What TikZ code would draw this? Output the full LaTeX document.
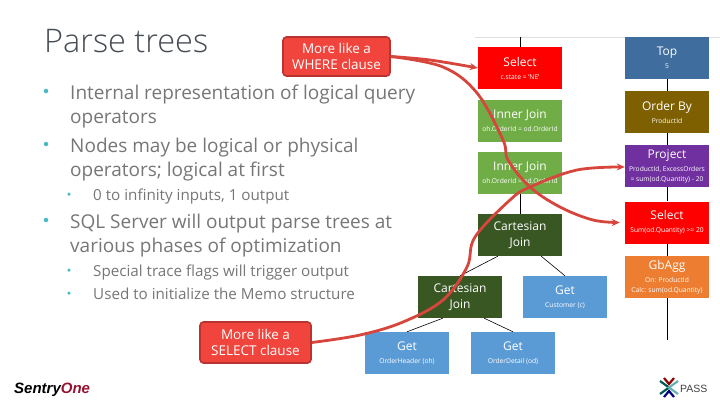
\documentclass[tikz,border=0pt]{standalone}
\usepackage{xcolor}
\usepackage{fontspec}
\setmainfont{Open Sans}
\newfontfamily\lightfont{Open Sans Light}
\newfontfamily\logofont{Liberation Sans}
\usetikzlibrary{arrows.meta}
\definecolor{bodygray}{RGB}{118,118,118}
\definecolor{titlegray}{RGB}{70,76,84}
\definecolor{bulletteal}{RGB}{70,185,195}
\definecolor{noteface}{RGB}{240,68,60}
\definecolor{noteedge}{RGB}{185,52,48}
\definecolor{curvered}{RGB}{215,70,60}
\definecolor{opred}{RGB}{255,0,0}
\definecolor{opgreen}{RGB}{112,173,71}
\definecolor{opdark}{RGB}{56,87,35}
\definecolor{opblue}{RGB}{91,155,213}
\definecolor{opsteel}{RGB}{62,109,158}
\definecolor{opbrown}{RGB}{127,96,0}
\definecolor{oppurple}{RGB}{112,48,160}
\definecolor{oporange}{RGB}{237,125,49}
\definecolor{onered}{RGB}{150,20,50}
\newcommand{\opsub}{\fontsize{6.7}{10}\selectfont}
\newcommand{\optwo}[2]{#1\\[-3pt]{\opsub #2}}
\newcommand{\opthree}[3]{#1\\[-3pt]{\opsub #2}\\[-6pt]{\opsub #3}}
\tikzset{
  opbox/.style={minimum width=84pt, minimum height=42pt, inner sep=0pt, text=white, align=center,
    font=\fontsize{12}{16}\selectfont},
  bigtext/.style={anchor=base west, inner sep=0pt, text=bodygray, font=\fontsize{19}{23}\selectfont},
  smalltext/.style={anchor=base west, inner sep=0pt, text=bodygray, font=\fontsize{15.2}{18}\selectfont},
  dotmark/.style={circle, fill=bulletteal, inner sep=0pt},
  note/.style={draw=noteedge, line width=1.6pt, fill=noteface, rounded corners=3.5pt, text=white,
    inner sep=0pt, align=center, font=\fontsize{13.5}{16.5}\selectfont},
  treeline/.style={black, line width=0.6pt},
  notecurve/.style={curvered, line width=2.8pt, smooth, tension=0.6, -{Stealth[length=8pt,width=7pt]}},
  passarm/.style={line width=2.2pt}
}
\begin{document}
\begin{tikzpicture}[x=1pt,y=-1pt]
    \useasboundingbox (0,0) rectangle (720,405);
    \draw[gray!25, line width=0.5pt] (475,37) -- (720,37);
    % title and bullets
    \node[anchor=base west, inner sep=0pt, text=titlegray, font=\fontsize{32.5}{38}\lightfont] (title) at (44,52) {Parse trees};
    \node[dotmark, minimum size=4.5pt] (dota) at (46,91) {};
    \node[bigtext] (linea) at (70,99) {Internal representation of logical query};
    \node[bigtext] (lineb) at (70,123) {operators};
    \node[dotmark, minimum size=4.5pt] (dotb) at (46,144) {};
    \node[bigtext] (linec) at (70,152) {Nodes may be logical or physical};
    \node[bigtext] (lined) at (70,176) {operators; logical at first};
    \node[dotmark, minimum size=3.5pt] (dotc) at (69,194) {};
    \node[smalltext] (linee) at (93,200) {0 to infinity inputs, 1 output};
    \node[dotmark, minimum size=4.5pt] (dotd) at (46,220) {};
    \node[bigtext] (linef) at (70,228) {SQL Server will output parse trees at};
    \node[bigtext] (lineg) at (70,252) {various phases of optimization};
    \node[dotmark, minimum size=3.5pt] (dote) at (69,270) {};
    \node[smalltext] (lineh) at (93,276) {Special trace flags will trigger output};
    \node[dotmark, minimum size=3.5pt] (dotf) at (69,293) {};
    \node[smalltext] (linei) at (93,299) {Used to initialize the Memo structure};
    % left tree
    \coordinate (stema) at (520,37);
    \node[opbox, fill=opred] (selecta) at (520,68) {\optwo{Select}{c.state = 'NE'}};
    \node[opbox, fill=opgreen] (innera) at (520,120.5) {\optwo{Inner Join}{oh.OrderId = od.OrderId}};
    \node[opbox, fill=opgreen] (innerb) at (520,173) {\optwo{Inner Join}{oh.OrderId = od.OrderId}};
    \node[opbox, fill=opdark] (cartb) at (520,235) {Cartesian\\Join};
    \node[opbox, fill=opdark] (cartc) at (460,297) {Cartesian\\Join};
    \node[opbox, fill=opblue] (getc) at (565,297) {\optwo{Get}{Customer (c)}};
    \node[opbox, fill=opblue] (geth) at (407,353) {\optwo{Get}{OrderHeader (oh)}};
    \node[opbox, fill=opblue] (getd) at (513,353) {\optwo{Get}{OrderDetail (od)}};
    \draw[treeline] (stema) -- (selecta.north);
    \draw[treeline] (innerb) -- (cartb);
    \draw[treeline] ([xshift=20pt]cartb.south west) -- (cartc.north);
    \draw[treeline] ([xshift=-21pt]cartb.south east) -- (getc.north);
    \draw[treeline] ([xshift=25pt]cartc.south west) -- (geth.north);
    \draw[treeline] ([xshift=-18pt]cartc.south east) -- (getd.north);
    % right column
    \node[opbox, fill=opsteel] (topop) at (667,58) {\optwo{Top}{5}};
    \node[opbox, fill=opbrown] (orderby) at (667,112) {\optwo{Order By}{ProductId}};
    \node[opbox, fill=oppurple] (project) at (667,166) {\opthree{Project}{ProductId, ExcessOrders}{= sum(od.Quantity) - 20}};
    \node[opbox, fill=opred] (selectb) at (667,222.5) {\optwo{Select}{Sum(od.Quantity) >= 20}};
    \node[opbox, fill=oporange] (gbagg) at (667,277) {\opthree{GbAgg}{On: ProductId}{Calc: sum(od.Quantity)}};
    \coordinate (stemb) at (667,340);
    \draw[treeline] (topop) -- (orderby);
    \draw[treeline] (orderby) -- (project);
    \draw[treeline] (project) -- (selectb);
    \draw[treeline] (selectb) -- (gbagg);
    \draw[treeline] (gbagg.south) -- (stemb);
    % notes
    \node[note, minimum width=107pt, minimum height=39pt] (wherenote) at (336.5,56.5) {More like a\\WHERE clause};
    \node[note, minimum width=111pt, minimum height=41pt] (selectnote) at (255.5,342.5) {More like a\\SELECT clause};
    \draw[notecurve] plot coordinates {(wherenote.east) (430,60) (selecta.west)};
    \draw[notecurve] plot coordinates {(wherenote.east) (443,67) (477,93) (503,140) (508,160) (530,187)
        (560,207) (593,220) ([xshift=-5pt]selectb.west)};
    \draw[notecurve] plot coordinates {(selectnote.east) (360,335) (403,322) (443,300) (467,267) (475,237)
        (510,200) (530,187) (577,170) ([yshift=-1pt]project.west)};
    % logos
    \node[anchor=base west, inner sep=0pt, font=\fontsize{15}{18}\logofont\bfseries\itshape] (sentry) at (14,393) {Sentry\textcolor{onered}{One}};
    \coordinate (passmid) at (669,387.5);
    \draw[passarm, teal!70!black] (660,381) -- (passmid) -- (660,394);
    \draw[passarm, red!55!black] (664,378) -- (669,384) -- (674,378);
    \draw[passarm, teal!60] (678,381) -- (passmid) -- (678,394);
    \draw[passarm, blue!50!black] (664,397) -- (669,391) -- (674,397);
    \node[anchor=base west, inner sep=0pt, text=black!75, font=\fontsize{10.5}{12}\logofont] (pass) at (680,392) {PASS};
\end{tikzpicture}
\end{document}
